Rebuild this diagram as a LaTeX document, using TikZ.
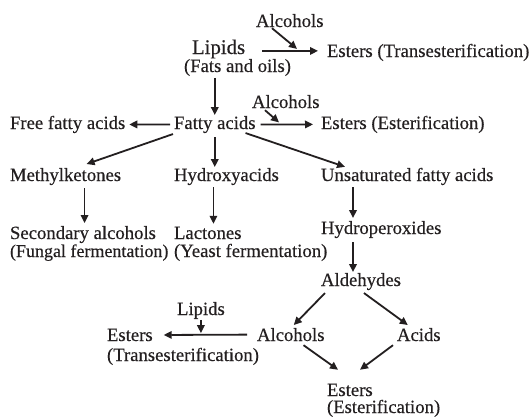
\documentclass[tikz,border=0pt]{standalone}
\usepackage{fontspec}
\setmainfont{Liberation Serif}[FakeBold=0.35]
\usetikzlibrary{arrows.meta,calc}
\definecolor{ink}{HTML}{231F20}
\begin{document}
\begin{tikzpicture}[x=1pt,y=-1pt,
  lbl/.style={inner sep=0pt, outer sep=0pt, anchor=base west, text=ink, font=\fontsize{18.7}{18}\selectfont},
  big/.style={lbl, font=\fontsize{20.8}{22}\selectfont},
  narrow/.style={lbl, font=\fontsize{18.0}{18}\selectfont},
  arr/.style={draw=ink, line width=1.8pt, -{Triangle[length=8pt,width=7.5pt]}},
]
\useasboundingbox[fill=white] (0,0) rectangle (532,416);
% nodes
\node[lbl] (alcA) at (256,27) {Alcohols};
\node[big] (lipA) at (192,54) {Lipids};
\node[lbl] (fats) at (184,72) {(Fats and oils)};
\node[lbl] (estA) at (327,57) {Esters (Transesterification)};
\node[lbl] (alcB) at (252,108) {Alcohols};
\node[lbl] (free) at (10,129) {Free fatty acids};
\node[lbl] (fatty) at (174,129) {Fatty acids};
\node[lbl] (estB) at (321,129) {Esters (Esterification)};
\node[lbl] (meth) at (10,181) {Methylketones};
\node[lbl] (hyd) at (174,181) {Hydroxyacids};
\node[lbl] (unsat) at (321,181) {Unsaturated fatty acids};
\node[lbl] (sec) at (10,239) {Secondary alcohols};
\node[narrow] (fung) at (10,257) {(Fungal fermentation)};
\node[lbl] (lac) at (174,239) {Lactones};
\node[lbl] (yeast) at (174,257) {(Yeast fermentation)};
\node[lbl] (hydp) at (321,234) {Hydroperoxides};
\node[lbl] (ald) at (321,286) {Aldehydes};
\node[lbl] (lipB) at (177,315) {Lipids};
\node[lbl] (estC) at (107,341) {Esters};
\node[lbl] (trans) at (107,361) {(Transesterification)};
\node[lbl] (alcC) at (257,341) {Alcohols};
\node[lbl] (acids) at (397,341) {Acids};
\node[lbl] (estD) at (327,396) {Esters};
\node[lbl] (ester) at (327,413) {(Esterification)};
% helper points on arrows
\coordinate (m1) at ($(estA.west)+(-30,-3.5)$);
\coordinate (m2) at ($(estB.west)+(-42,-2)$);
% connectors
\draw[arr] ($(lipA.east |- estA.west)+(17,-1.5)$) -- ($(estA.west)+(-9,-1.5)$);
\draw[arr] ($(alcA.south west)+(16,1)$) -- (m1);
\draw[arr] ($(fatty.north |- fats.south)+(0,2)$) -- ($(fatty.north)+(0,-1)$);
\draw[arr] ($(fatty.west)+(-4,0)$) -- ($(free.east)+(4,0)$);
\draw[arr] ($(fatty.east)+(5,0)$) -- ($(estB.west)+(-8,0)$);
\draw[arr] ($(alcB.south west)+(13,2)$) -- (m2);
\draw[arr] ($(fatty.south west)+(-1,1)$) -- ($(meth.north)+(21,-4)$);
\draw[arr] ($(fatty.south)+(0,4)$) -- ($(fatty.south |- hyd.north)+(0,-1)$);
\draw[arr] ($(fatty.south east)+(-10,0)$) -- ($(unsat.north west)+(24,-1)$);
\draw[arr] ($(meth.south)+(19,3)$) -- ($(meth.south |- sec.north)+(19,-3)$);
\draw[arr] ($(hyd.south)+(-13,2)$) -- ($(hyd.south |- lac.north)+(-13,-3)$);
\draw[arr] ($(unsat.south west)+(32,2)$) -- ($(unsat.south west |- hydp.north)+(32,-3)$);
\draw[arr] ($(hydp.south west)+(32,4)$) -- ($(hydp.south west |- ald.north)+(32,-1)$);
\draw[arr] ($(ald.south west)+(4,3)$) -- ($(alcC.north)+(3,-3)$);
\draw[arr] ($(ald.south east)+(-37,3)$) -- ($(acids.north)+(-11,-3)$);
\draw[arr] ($(alcC.west)+(-10,0)$) -- ($(estC.east)+(11,0)$);
\draw[arr] ($(lipB.south)+(0,1)$) -- ($(lipB.south |- alcC.west)+(0,-1.5)$);
\draw[arr] ($(alcC.south east)+(-21,4)$) -- ($(estD.north west)+(11,-14)$);
\draw[arr] ($(acids.south west)+(-4,4)$) -- ($(estD.north west)+(33,-14)$);
\end{tikzpicture}
\end{document}
